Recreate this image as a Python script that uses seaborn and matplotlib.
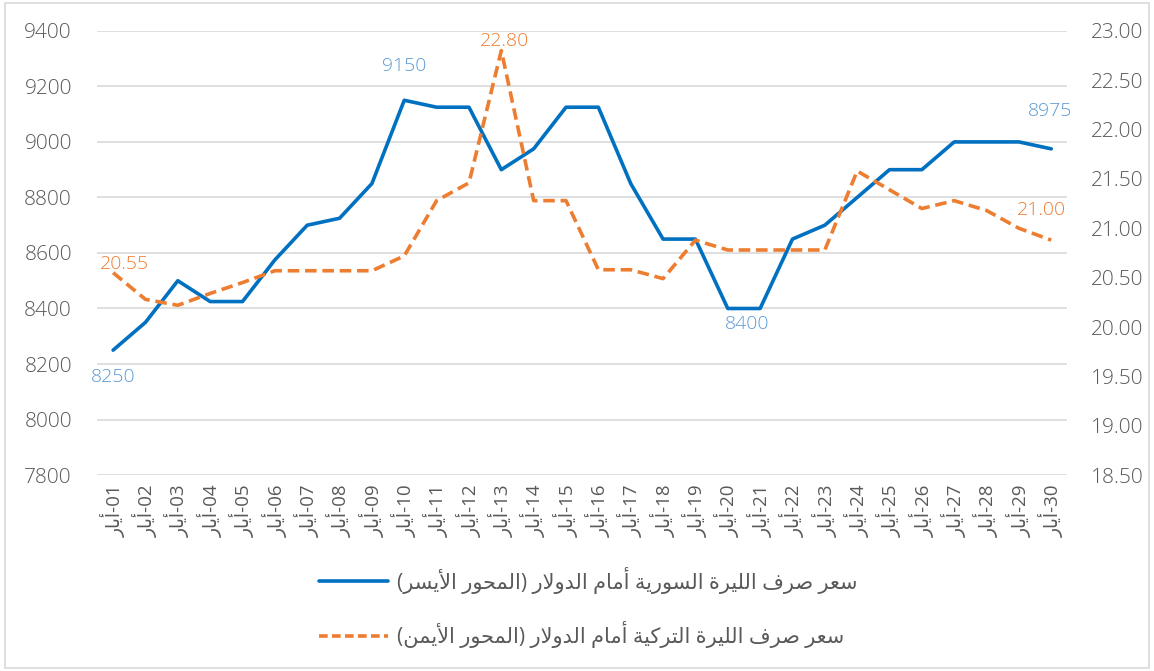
import numpy as np
import pandas as pd
import matplotlib
matplotlib.use('Agg')
import matplotlib.pyplot as plt
import seaborn as sns
from matplotlib.patches import Rectangle
from matplotlib.lines import Line2D

# Arabic shaping by hand (matplotlib has no shaping / bidi)
FORMS = {
    'ا': ('\uFE8D', '\uFE8E', None, None),
    'أ': ('\uFE83', '\uFE84', None, None),
    'ة': ('\uFE93', '\uFE94', None, None),
    'ت': ('\uFE95', '\uFE96', '\uFE97', '\uFE98'),
    'ح': ('\uFEA1', '\uFEA2', '\uFEA3', '\uFEA4'),
    'د': ('\uFEA9', '\uFEAA', None, None),
    'ر': ('\uFEAD', '\uFEAE', None, None),
    'س': ('\uFEB1', '\uFEB2', '\uFEB3', '\uFEB4'),
    'ص': ('\uFEB9', '\uFEBA', '\uFEBB', '\uFEBC'),
    'ع': ('\uFEC9', '\uFECA', '\uFECB', '\uFECC'),
    'ف': ('\uFED1', '\uFED2', '\uFED3', '\uFED4'),
    'ك': ('\uFED9', '\uFEDA', '\uFEDB', '\uFEDC'),
    'ل': ('\uFEDD', '\uFEDE', '\uFEDF', '\uFEE0'),
    'م': ('\uFEE1', '\uFEE2', '\uFEE3', '\uFEE4'),
    'ن': ('\uFEE5', '\uFEE6', '\uFEE7', '\uFEE8'),
    'و': ('\uFEED', '\uFEEE', None, None),
    'ي': ('\uFEF1', '\uFEF2', '\uFEF3', '\uFEF4'),
}
LAM_ALEF = {'ا': ('\uFEFB', '\uFEFC'), 'أ': ('\uFEF7', '\uFEF8')}


def dual(c):
    return c in FORMS and FORMS[c][2] is not None


def shape(s):
    out = []
    i = 0
    while i < len(s):
        c = s[i]
        prev = s[i - 1] if i > 0 else ''
        nxt = s[i + 1] if i + 1 < len(s) else ''
        if c not in FORMS:
            out.append(c)
            i += 1
            continue
        joins_prev = dual(prev)
        if c == 'ل' and nxt in LAM_ALEF:
            out.append(LAM_ALEF[nxt][1 if joins_prev else 0])
            i += 2
            continue
        joins_next = dual(c) and nxt in FORMS
        f = FORMS[c]
        if joins_prev and joins_next:
            out.append(f[3])
        elif joins_prev:
            out.append(f[1])
        elif joins_next:
            out.append(f[2])
        else:
            out.append(f[0])
        i += 1
    return ''.join(out)


def rtl(s):
    v = shape(s)[::-1]
    return v.translate(str.maketrans('()', ')('))


days = [f'{d:02d}' for d in range(1, 31)]
month = 'أيار'
syp = [8250, 8350, 8500, 8425, 8425, 8575, 8700, 8725, 8850, 9150,
       9125, 9125, 8900, 8975, 9125, 9125, 8850, 8650, 8650, 8400,
       8400, 8650, 8700, 8800, 8900, 8900, 9000, 9000, 9000, 8975]
tryl = [20.55, 20.28, 20.22, 20.34, 20.45, 20.57, 20.57, 20.57, 20.57, 20.72,
        21.28, 21.46, 22.80, 21.28, 21.28, 20.58, 20.58, 20.49, 20.88, 20.78,
        20.78, 20.78, 20.78, 21.58, 21.39, 21.20, 21.28, 21.18, 21.00, 20.88]
label_syp = 'سعر صرف الليرة السورية أمام الدولار (المحور الأيسر)'
label_try = 'سعر صرف الليرة التركية أمام الدولار (المحور الأيمن)'
# (index, text, dx pt, dy pt)
notes_syp = [(0, '8250', 0, -19), (9, '9150', 0, 25), (20, '8400', -9, -11), (29, '8975', -1, 27)]
notes_try = [(0, '20.55', 8, 6), (12, '22.80', 2, 7), (29, '21.00', -7, 22)]

df = pd.DataFrame({'x': np.arange(30), 'syp': syp, 'try': tryl})

sns.set_style('white')
plt.rcParams['font.family'] = ['Open Sans', 'DejaVu Sans']

BLUE = '#0070C0'
BLUE_L = '#5B9BD5'
ORANGE = '#ED7D31'
GRAY = '#595959'

fig = plt.figure(figsize=(11.54, 6.71), dpi=100)
fig.patches.append(Rectangle((0.004, 0.004), 0.992, 0.991, transform=fig.transFigure,
                             fill=False, edgecolor='#D9D9D9', linewidth=1.2))
ax = fig.add_axes([0.084, 0.292, 0.841, 0.662])
ax2 = ax.twinx()

sns.lineplot(data=df, x='x', y='syp', ax=ax, color=BLUE, linewidth=2.6, zorder=3)
sns.lineplot(data=df, x='x', y='try', ax=ax2, color=ORANGE, linewidth=2.6,
             dashes=False, zorder=3)
ax2.lines[0].set_dashes((3.2, 1.6))

ax.set_xlim(-0.5, 29.5)
ax.set_ylim(7800, 9400)
ax.set_yticks(np.arange(7800, 9401, 200))
ax2.set_ylim(18.5, 23.0)
ax2.set_yticks(np.arange(18.5, 23.01, 0.5))
ax2.set_yticklabels([f'{v:.2f}' for v in np.arange(18.5, 23.01, 0.5)])

ax.set_xticks(df['x'])
ax.set_xticklabels([rtl(month) + '-' + d for d in days], rotation=90, color=GRAY)
ax.grid(axis='y', color='#D9D9D9', linewidth=1.2)
ax.set_axisbelow(True)
ax.set_xlabel('')
ax.set_ylabel('')
ax2.set_ylabel('')
for a in (ax, ax2):
    for sp in a.spines.values():
        sp.set_visible(False)
    a.tick_params(length=0, colors=GRAY, labelsize=15)
    for lbl in a.get_yticklabels():
        lbl.set_fontweight('light')
ax.tick_params(axis='y', pad=18)
ax.tick_params(axis='x', pad=7, labelsize=13.5)
ax2.tick_params(axis='y', pad=17)

for i, t, dx, dy in notes_syp:
    ax.annotate(t, (df['x'][i], syp[i]), xytext=(dx, dy), textcoords='offset points',
                ha='center', va='center', color=BLUE_L, fontsize=14, fontweight='light')
for i, t, dx, dy in notes_try:
    ax2.annotate(t, (df['x'][i], tryl[i]), xytext=(dx, dy), textcoords='offset points',
                 ha='center', va='center', color=ORANGE, fontsize=14, fontweight='light')

handles = [Line2D([], [], color=BLUE, linewidth=2.6),
           Line2D([], [], color=ORANGE, linewidth=2.6, dashes=(2.4, 1.2))]
fig.legend(handles, [rtl(label_syp), rtl(label_try)], loc='center',
           bbox_to_anchor=(0.51, 0.095), frameon=False, fontsize=15,
           labelcolor=GRAY, handlelength=3.3, handletextpad=0.45, labelspacing=1.3)

fig.savefig('out.png', dpi=100, facecolor='white')
